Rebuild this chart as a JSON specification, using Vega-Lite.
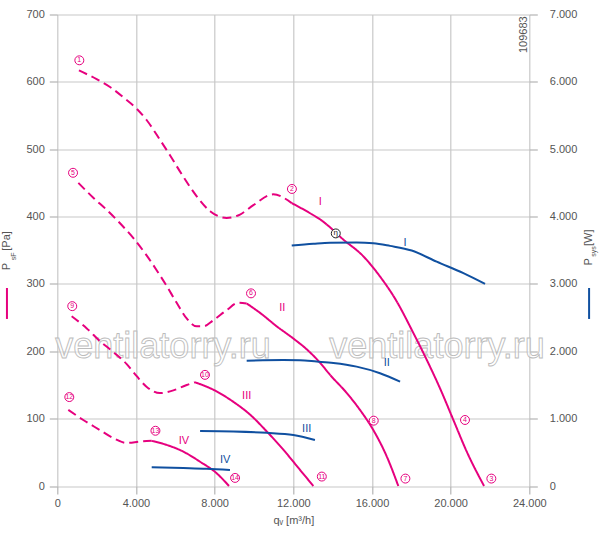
{
  "$schema": "https://vega.github.io/schema/vega-lite/v6.json",
  "width": 472,
  "height": 471.5,
  "autosize": "none",
  "padding": {"left": 57.3, "top": 14.5, "right": 70.7, "bottom": 49},
  "background": "white",
  "config": {
    "view": {"stroke": null},
    "font": "Liberation Sans",
    "axis": {
      "domain": false,
      "gridColor": "#c8c8c8",
      "gridWidth": 1.2,
      "tickWidth": 1.2,
      "labelColor": "#555555",
      "labelFontSize": 11,
      "titleColor": "#555555",
      "titleFontSize": 11,
      "titleFontWeight": "normal",
      "labelOverlap": false,
      "labelFlush": false
    }
  },
  "datasets": {
    "pa": [
      {"c": "1", "s": "d", "q": 1100, "p": 617},
      {"c": "1", "s": "d", "q": 2000, "p": 604},
      {"c": "1", "s": "d", "q": 2700, "p": 592},
      {"c": "1", "s": "d", "q": 3440, "p": 575},
      {"c": "1", "s": "d", "q": 4040, "p": 560},
      {"c": "1", "s": "d", "q": 4550, "p": 543},
      {"c": "1", "s": "d", "q": 5220, "p": 514},
      {"c": "1", "s": "d", "q": 5730, "p": 491},
      {"c": "1", "s": "d", "q": 6410, "p": 459},
      {"c": "1", "s": "d", "q": 7090, "p": 430},
      {"c": "1", "s": "d", "q": 7770, "p": 408},
      {"c": "1", "s": "d", "q": 8610, "p": 398},
      {"c": "1", "s": "d", "q": 9290, "p": 403},
      {"c": "1", "s": "d", "q": 9970, "p": 417},
      {"c": "1", "s": "d", "q": 10980, "p": 433},
      {"c": "1", "s": "d", "q": 11920, "p": 420},
      {"c": "1", "s": "s", "q": 11920, "p": 420},
      {"c": "1", "s": "s", "q": 12850, "p": 405},
      {"c": "1", "s": "s", "q": 13450, "p": 394},
      {"c": "1", "s": "s", "q": 13870, "p": 384},
      {"c": "1", "s": "s", "q": 14460, "p": 368},
      {"c": "1", "s": "s", "q": 15560, "p": 341},
      {"c": "1", "s": "s", "q": 16410, "p": 311},
      {"c": "1", "s": "s", "q": 17260, "p": 274},
      {"c": "1", "s": "s", "q": 18020, "p": 232},
      {"c": "1", "s": "s", "q": 18790, "p": 187},
      {"c": "1", "s": "s", "q": 19460, "p": 145},
      {"c": "1", "s": "s", "q": 20140, "p": 98},
      {"c": "1", "s": "s", "q": 20820, "p": 51},
      {"c": "1", "s": "s", "q": 21700, "p": 0},
      {"c": "2", "s": "d", "q": 1070, "p": 450},
      {"c": "2", "s": "d", "q": 1830, "p": 428},
      {"c": "2", "s": "d", "q": 2510, "p": 410},
      {"c": "2", "s": "d", "q": 3190, "p": 390},
      {"c": "2", "s": "d", "q": 3870, "p": 368},
      {"c": "2", "s": "d", "q": 4550, "p": 342},
      {"c": "2", "s": "d", "q": 5060, "p": 320},
      {"c": "2", "s": "d", "q": 5560, "p": 297},
      {"c": "2", "s": "d", "q": 6070, "p": 272},
      {"c": "2", "s": "d", "q": 6600, "p": 248},
      {"c": "2", "s": "d", "q": 7090, "p": 237},
      {"c": "2", "s": "d", "q": 7430, "p": 237},
      {"c": "2", "s": "d", "q": 7930, "p": 246},
      {"c": "2", "s": "d", "q": 8610, "p": 261},
      {"c": "2", "s": "d", "q": 9200, "p": 272},
      {"c": "2", "s": "d", "q": 9630, "p": 271},
      {"c": "2", "s": "s", "q": 9630, "p": 271},
      {"c": "2", "s": "s", "q": 10310, "p": 257},
      {"c": "2", "s": "s", "q": 11160, "p": 237},
      {"c": "2", "s": "s", "q": 12000, "p": 219},
      {"c": "2", "s": "s", "q": 12680, "p": 203},
      {"c": "2", "s": "s", "q": 13360, "p": 183},
      {"c": "2", "s": "s", "q": 13870, "p": 165},
      {"c": "2", "s": "s", "q": 14720, "p": 138},
      {"c": "2", "s": "s", "q": 15390, "p": 113},
      {"c": "2", "s": "s", "q": 16070, "p": 83},
      {"c": "2", "s": "s", "q": 16750, "p": 44},
      {"c": "2", "s": "s", "q": 17340, "p": 0},
      {"c": "3", "s": "d", "q": 730, "p": 252},
      {"c": "3", "s": "d", "q": 1500, "p": 234},
      {"c": "3", "s": "d", "q": 2170, "p": 215},
      {"c": "3", "s": "d", "q": 2850, "p": 199},
      {"c": "3", "s": "d", "q": 3530, "p": 181},
      {"c": "3", "s": "d", "q": 4040, "p": 163},
      {"c": "3", "s": "d", "q": 4550, "p": 147},
      {"c": "3", "s": "d", "q": 5220, "p": 138},
      {"c": "3", "s": "d", "q": 5900, "p": 142},
      {"c": "3", "s": "d", "q": 6580, "p": 150},
      {"c": "3", "s": "d", "q": 7000, "p": 154},
      {"c": "3", "s": "s", "q": 7000, "p": 154},
      {"c": "3", "s": "s", "q": 7930, "p": 143},
      {"c": "3", "s": "s", "q": 8950, "p": 125},
      {"c": "3", "s": "s", "q": 9800, "p": 106},
      {"c": "3", "s": "s", "q": 10650, "p": 81},
      {"c": "3", "s": "s", "q": 11490, "p": 54},
      {"c": "3", "s": "s", "q": 12340, "p": 24},
      {"c": "3", "s": "s", "q": 13020, "p": 0},
      {"c": "4", "s": "d", "q": 560, "p": 113},
      {"c": "4", "s": "d", "q": 1320, "p": 98},
      {"c": "4", "s": "d", "q": 2170, "p": 83},
      {"c": "4", "s": "d", "q": 2850, "p": 71},
      {"c": "4", "s": "d", "q": 3530, "p": 64},
      {"c": "4", "s": "d", "q": 4210, "p": 66},
      {"c": "4", "s": "d", "q": 4800, "p": 67},
      {"c": "4", "s": "s", "q": 4800, "p": 67},
      {"c": "4", "s": "s", "q": 5560, "p": 61},
      {"c": "4", "s": "s", "q": 6410, "p": 51},
      {"c": "4", "s": "s", "q": 7260, "p": 36},
      {"c": "4", "s": "s", "q": 8100, "p": 19},
      {"c": "4", "s": "s", "q": 8730, "p": 0}
    ],
    "w": [
      {"c": "I", "q": 11920, "w": 3570},
      {"c": "I", "q": 13020, "w": 3595},
      {"c": "I", "q": 13870, "w": 3610},
      {"c": "I", "q": 15220, "w": 3615},
      {"c": "I", "q": 16070, "w": 3605},
      {"c": "I", "q": 16920, "w": 3565},
      {"c": "I", "q": 18020, "w": 3496},
      {"c": "I", "q": 19290, "w": 3330},
      {"c": "I", "q": 20650, "w": 3160},
      {"c": "I", "q": 21750, "w": 3000},
      {"c": "II", "q": 9630, "w": 1860},
      {"c": "II", "q": 11490, "w": 1870},
      {"c": "II", "q": 12340, "w": 1868},
      {"c": "II", "q": 13190, "w": 1848},
      {"c": "II", "q": 14040, "w": 1826},
      {"c": "II", "q": 15220, "w": 1772},
      {"c": "II", "q": 16410, "w": 1674},
      {"c": "II", "q": 17430, "w": 1549},
      {"c": "III", "q": 7260, "w": 817},
      {"c": "III", "q": 8950, "w": 810},
      {"c": "III", "q": 10650, "w": 790},
      {"c": "III", "q": 12000, "w": 757},
      {"c": "III", "q": 13100, "w": 683},
      {"c": "IV", "q": 4800, "w": 278},
      {"c": "IV", "q": 6410, "w": 267},
      {"c": "IV", "q": 7600, "w": 257},
      {"c": "IV", "q": 8780, "w": 238}
    ],
    "circles": [
      {"t": "1", "q": 1120, "p": 632},
      {"t": "2", "q": 11930, "p": 441},
      {"t": "3", "q": 22070, "p": 11},
      {"t": "4", "q": 20730, "p": 98},
      {"t": "5", "q": 800, "p": 465},
      {"t": "6", "q": 9850, "p": 286},
      {"t": "7", "q": 17700, "p": 11},
      {"t": "8", "q": 16090, "p": 97},
      {"t": "9", "q": 760, "p": 267},
      {"t": "10", "q": 7510, "p": 165},
      {"t": "11", "q": 13450, "p": 14},
      {"t": "12", "q": 610, "p": 132},
      {"t": "13", "q": 4990, "p": 82},
      {"t": "14", "q": 9040, "p": 12}
    ],
    "romanPa": [
      {"t": "I", "q": 13370, "p": 421},
      {"t": "II", "q": 11440, "p": 265},
      {"t": "III", "q": 9630, "p": 134},
      {"t": "IV", "q": 6440, "p": 67}
    ],
    "romanW": [
      {"t": "I", "q": 17680, "w": 3614},
      {"t": "II", "q": 16750, "w": 1822},
      {"t": "III", "q": 12680, "w": 847},
      {"t": "IV", "q": 8540, "w": 386}
    ],
    "eta": [{"t": "η", "q": 14160, "p": 375}],
    "watermark": [
      {"t": "ventilatorry.ru", "q": 5375, "p": 190},
      {"t": "ventilatorry.ru", "q": 19308, "p": 190}
    ],
    "code": [{"t": "109683", "q": 23706, "p": 670}],
    "one": [{"k": 1}]
  },
  "layer": [
    {
      "layer": [
        {
          "data": {"name": "one"},
          "mark": {"type": "rect", "color": "#ffffff"},
          "encoding": {
            "x": {"datum": 23170, "type": "quantitative", "scale": {"domain": [0, 24000], "nice": false}},
            "x2": {"datum": 23960},
            "y": {"datum": 640, "type": "quantitative", "scale": {"domain": [0, 700], "nice": false}},
            "y2": {"datum": 697}
          }
        },
        {
          "data": {"name": "watermark"},
          "mark": {"type": "text", "fontSize": 36, "fill": "#ffffff", "fillOpacity": 0.55, "stroke": "#bcbcbc", "strokeWidth": 0.9, "align": "center", "baseline": "alphabetic"},
          "encoding": {
            "x": {"field": "q", "type": "quantitative", "scale": {"domain": [0, 24000], "nice": false}},
            "y": {"field": "p", "type": "quantitative", "scale": {"domain": [0, 700], "nice": false}},
            "text": {"field": "t"}
          }
        },
        {
          "data": {"name": "pa"},
          "mark": {"type": "line", "color": "#e6007e", "strokeWidth": 2, "interpolate": "monotone"},
          "encoding": {
            "x": {
              "field": "q", "type": "quantitative",
              "scale": {"domain": [0, 24000], "nice": false},
              "axis": {
                "values": [0, 2000, 4000, 6000, 8000, 10000, 12000, 14000, 16000, 18000, 20000, 22000, 24000],
                "grid": true,
                "tickSize": 8,
                "tickColor": {"condition": {"test": "datum.value % 4000 === 0", "value": "#b4b4b4"}, "value": "rgba(0,0,0,0)"},
                "labelExpr": "datum.value % 4000 === 0 ? replace(format(datum.value, ','), ',', '.') : ''",
                "labelPadding": 3,
                "title": "qᵥ [m³/h]",
                "titlePadding": 6
              }
            },
            "y": {
              "field": "p", "type": "quantitative",
              "scale": {"domain": [0, 700], "nice": false},
              "axis": {
                "values": [0, 50, 100, 150, 200, 250, 300, 350, 400, 450, 500, 550, 600, 650, 700],
                "grid": true,
                "tickSize": 8,
                "tickColor": {"condition": {"test": "datum.value % 100 === 0", "value": "#b4b4b4"}, "value": "rgba(0,0,0,0)"},
                "labelExpr": "datum.value % 100 === 0 ? datum.label : ''",
                "labelPadding": 5,
                "title": "P\u00a0\u00a0\u00a0\u00a0[Pa]",
                "titlePadding": 14
              }
            },
            "detail": {"field": "c"},
            "strokeDash": {
              "field": "s", "type": "nominal",
              "scale": {"domain": ["s", "d"], "range": [[1, 0], [9, 5]]},
              "legend": null
            }
          }
        },
        {
          "data": {"name": "circles"},
          "mark": {"type": "point", "shape": "circle", "size": 80, "filled": true, "fill": "#ffffff", "stroke": "#e6007e", "strokeWidth": 1, "opacity": 1},
          "encoding": {
            "x": {"field": "q", "type": "quantitative", "scale": {"domain": [0, 24000], "nice": false}},
            "y": {"field": "p", "type": "quantitative", "scale": {"domain": [0, 700], "nice": false}}
          }
        },
        {
          "data": {"name": "circles"},
          "mark": {"type": "text", "fontSize": 7, "color": "#e6007e", "align": "center", "baseline": "middle"},
          "encoding": {
            "x": {"field": "q", "type": "quantitative", "scale": {"domain": [0, 24000], "nice": false}},
            "y": {"field": "p", "type": "quantitative", "scale": {"domain": [0, 700], "nice": false}},
            "text": {"field": "t"}
          }
        },
        {
          "data": {"name": "eta"},
          "mark": {"type": "point", "shape": "circle", "size": 80, "filled": true, "fill": "#ffffff", "stroke": "#222222", "strokeWidth": 1, "opacity": 1},
          "encoding": {
            "x": {"field": "q", "type": "quantitative", "scale": {"domain": [0, 24000], "nice": false}},
            "y": {"field": "p", "type": "quantitative", "scale": {"domain": [0, 700], "nice": false}}
          }
        },
        {
          "data": {"name": "eta"},
          "mark": {"type": "text", "fontSize": 8, "color": "#222222", "align": "center", "baseline": "middle"},
          "encoding": {
            "x": {"field": "q", "type": "quantitative", "scale": {"domain": [0, 24000], "nice": false}},
            "y": {"field": "p", "type": "quantitative", "scale": {"domain": [0, 700], "nice": false}},
            "text": {"field": "t"}
          }
        },
        {
          "data": {"name": "romanPa"},
          "mark": {"type": "text", "fontSize": 11, "color": "#e6007e", "align": "center", "baseline": "middle"},
          "encoding": {
            "x": {"field": "q", "type": "quantitative", "scale": {"domain": [0, 24000], "nice": false}},
            "y": {"field": "p", "type": "quantitative", "scale": {"domain": [0, 700], "nice": false}},
            "text": {"field": "t"}
          }
        },
        {
          "data": {"name": "code"},
          "mark": {"type": "text", "fontSize": 11, "color": "#555555", "angle": 270, "align": "center", "baseline": "middle"},
          "encoding": {
            "x": {"field": "q", "type": "quantitative", "scale": {"domain": [0, 24000], "nice": false}},
            "y": {"field": "p", "type": "quantitative", "scale": {"domain": [0, 700], "nice": false}},
            "text": {"field": "t"}
          }
        },
        {
          "data": {"name": "one"},
          "mark": {"type": "rule", "color": "#e6007e", "strokeWidth": 2},
          "encoding": {
            "x": {"datum": -2560, "type": "quantitative", "scale": {"domain": [0, 24000], "nice": false}},
            "y": {"datum": 294, "type": "quantitative", "scale": {"domain": [0, 700], "nice": false}},
            "y2": {"datum": 248}
          }
        },
        {
          "data": {"name": "one"},
          "mark": {"type": "rule", "color": "#1050a0", "strokeWidth": 2},
          "encoding": {
            "x": {"datum": 27040, "type": "quantitative", "scale": {"domain": [0, 24000], "nice": false}},
            "y": {"datum": 294, "type": "quantitative", "scale": {"domain": [0, 700], "nice": false}},
            "y2": {"datum": 248}
          }
        },
        {
          "data": {"name": "one"},
          "mark": {"type": "text", "fontSize": 7, "color": "#555555", "angle": 270, "align": "center", "baseline": "alphabetic", "text": "sF"},
          "encoding": {
            "x": {"datum": -2075, "type": "quantitative", "scale": {"domain": [0, 24000], "nice": false}},
            "y": {"datum": 341, "type": "quantitative", "scale": {"domain": [0, 700], "nice": false}}
          }
        },
        {
          "data": {"name": "one"},
          "mark": {"type": "text", "fontSize": 7, "color": "#555555", "angle": 270, "align": "center", "baseline": "alphabetic", "text": "sys"},
          "encoding": {
            "x": {"datum": 27400, "type": "quantitative", "scale": {"domain": [0, 24000], "nice": false}},
            "y": {"datum": 348, "type": "quantitative", "scale": {"domain": [0, 700], "nice": false}}
          }
        }
      ]
    },
    {
      "layer": [
        {
          "data": {"name": "w"},
          "mark": {"type": "line", "color": "#1050a0", "strokeWidth": 2, "interpolate": "monotone"},
          "encoding": {
            "x": {"field": "q", "type": "quantitative", "scale": {"domain": [0, 24000], "nice": false}},
            "y": {
              "field": "w", "type": "quantitative",
              "scale": {"domain": [0, 7000], "nice": false},
              "axis": {
                "orient": "right",
                "values": [0, 1000, 2000, 3000, 4000, 5000, 6000, 7000],
                "grid": false,
                "tickSize": 8,
                "tickColor": "#b4b4b4",
                "labelAlign": "left",
                "labelPadding": 12,
                "labelExpr": "replace(format(datum.value, ','), ',', '.')",
                "title": "P\u00a0\u00a0\u00a0\u00a0[W]",
                "titleAngle": 270,
                "titleY": 232.5,
                "titlePadding": 17
              }
            },
            "detail": {"field": "c"}
          }
        },
        {
          "data": {"name": "romanW"},
          "mark": {"type": "text", "fontSize": 11, "color": "#1050a0", "align": "center", "baseline": "middle"},
          "encoding": {
            "x": {"field": "q", "type": "quantitative", "scale": {"domain": [0, 24000], "nice": false}},
            "y": {"field": "w", "type": "quantitative", "scale": {"domain": [0, 7000], "nice": false}},
            "text": {"field": "t"}
          }
        }
      ]
    }
  ],
  "resolve": {"scale": {"y": "independent"}}
}
